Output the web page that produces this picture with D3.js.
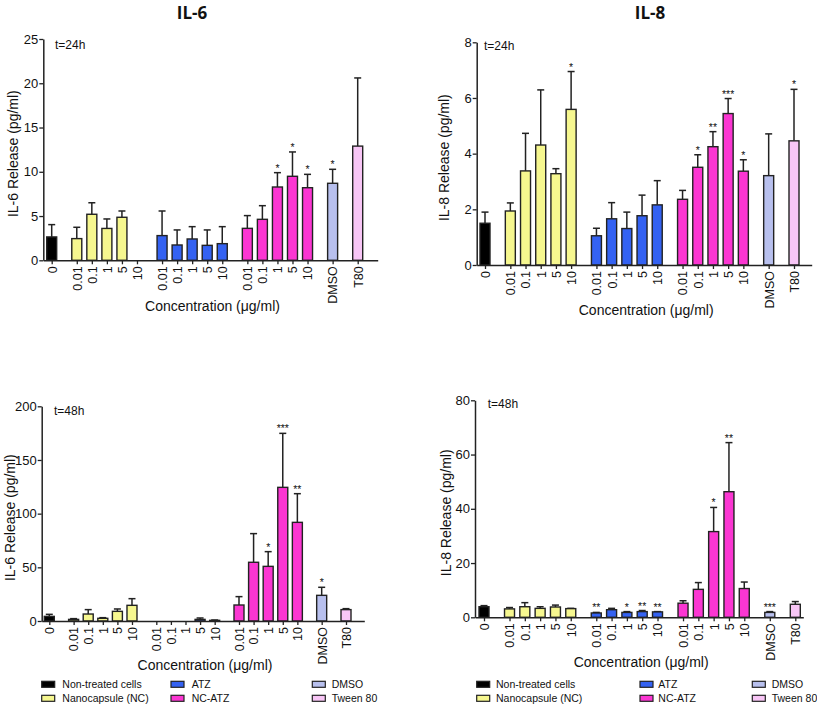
<!DOCTYPE html>
<html>
<head>
<meta charset="utf-8">
<script src="https://cdn.jsdelivr.net/npm/d3@7"></script>
<style>
  body { margin: 0; background: #fff; }
  svg { display: block; font-family: "Liberation Sans", Arial, sans-serif; }
</style>
</head>
<body>
<svg id="chart" width="817" height="706"></svg>
<script>
// ---------------- DATA ----------------
const groupNames = ["Non-treated cells", "Nanocapsule (NC)", "ATZ", "NC-ATZ", "DMSO", "Tween 80"];
const groupColors = ["#000000", "#f6f78f", "#3462f2", "#fb36d2", "#b8c0ee", "#f8c6f6"];
const categoryLabels = ["0", "0.01", "0.1", "1", "5", "10", "0.01", "0.1", "1", "5", "10",
                        "0.01", "0.1", "1", "5", "10", "DMSO", "T80"];
const categoryGroup = [0, 1, 1, 1, 1, 1, 2, 2, 2, 2, 2, 3, 3, 3, 3, 3, 4, 5];

// IL-6, 24h
const il6_24_mean = [2.64, 2.45, 5.2, 3.6, 4.86, null, 2.79, 1.73, 2.41, 1.69, 1.88, 3.61, 4.63, 8.28, 9.49, 8.2, 8.7, 12.9];
const il6_24_err  = [1.39, 1.28, 1.3, 1.07, 0.71, null, 2.78, 1.7, 1.39, 1.74, 1.92, 1.44, 1.54, 1.62, 2.75, 1.51, 1.58, 7.7];
const il6_24_sig  = ["", "", "", "", "", "", "", "", "", "", "", "", "", "*", "*", "*", "*", ""];
const il6_24_ticks = [0, 5, 10, 15, 20, 25];

// IL-8, 24h
const il8_24_mean = [1.50, 1.94, 3.38, 4.31, 3.28, 5.59, 1.05, 1.66, 1.31, 1.77, 2.16, 2.36, 3.51, 4.25, 5.44, 3.37, 3.21, 4.46];
const il8_24_err  = [0.40, 0.29, 1.35, 1.98, 0.18, 1.36, 0.27, 0.58, 0.59, 0.74, 0.87, 0.32, 0.45, 0.54, 0.54, 0.41, 1.50, 1.85];
const il8_24_sig  = ["", "", "", "", "", "*", "", "", "", "", "", "", "*", "**", "***", "*", "", "*"];
const il8_24_ticks = [0, 2, 4, 6, 8];

// IL-6, 48h
const il6_48_mean = [4.3, 1.5, 6.5, 2.5, 9.0, 14.6, null, null, null, 1.5, 0.6, 14.9, 54.7, 50.9, 124.5, 91.9, 23.9, 10.6];
const il6_48_err  = [1.9, 0.7, 4.1, 0.6, 2.2, 6.2, null, null, null, 1.3, 0.3, 7.8, 26.7, 13.7, 50.3, 26.7, 7.5, 0.9];
const il6_48_sig  = ["", "", "", "", "", "", "", "", "", "", "", "", "", "*", "***", "**", "*", ""];
const il6_48_ticks = [0, 50, 100, 150, 200];

// IL-8, 48h
const il8_48_mean = [3.9, 3.1, 3.9, 3.3, 3.8, 3.2, 1.6, 2.8, 1.8, 2.1, 2.0, 5.2, 10.3, 31.6, 46.3, 10.6, 1.8, 4.8];
const il8_48_err  = [0.4, 0.5, 1.5, 0.6, 0.7, 0.1, 0.2, 0.5, 0.3, 0.4, 0.1, 0.9, 2.5, 8.9, 18.1, 2.4, 0.3, 1.0];
const il8_48_sig  = ["", "", "", "", "", "", "**", "", "*", "**", "**", "", "", "*", "**", "", "***", ""];
const il8_48_ticks = [0, 20, 40, 60, 80];

const panelTitles = ["IL-6", "IL-8"];
const timeLabels = ["t=24h", "t=48h"];
const xTitle = "Concentration (\u03bcg/ml)";

// ---------------- LAYOUT ----------------
const svg = d3.select("#chart");
const GAP = 2 / 3;   // extra space between groups, in bar-step units
const positions = categoryLabels.map((d, i) => i + GAP * categoryGroup[i]);
const lastPos = positions[positions.length - 1];

const panels = [
  { mean: il6_24_mean, err: il6_24_err, sig: il6_24_sig, ticks: il6_24_ticks, ylab: "IL-6 Release (pg/ml)", time: timeLabels[0],
    ax: 43.3, x0: 51.7, x1: 357.7, xe: 377.7, y0: 260.3, yt: 39, ylx: 13, xty: 311, tx: 55, ty: 49, legend: false },
  { mean: il8_24_mean, err: il8_24_err, sig: il8_24_sig, ticks: il8_24_ticks, ylab: "IL-8 Release (pg/ml)", time: timeLabels[0],
    ax: 476.7, x0: 485, x1: 794, xe: 811.7, y0: 265, yt: 42.3, ylx: 444, xty: 315, tx: 484, ty: 50, legend: false },
  { mean: il6_48_mean, err: il6_48_err, sig: il6_48_sig, ticks: il6_48_ticks, ylab: "IL-6 Release (pg/ml)", time: timeLabels[1],
    ax: 41.7, x0: 49.3, x1: 346, xe: 364.3, y0: 621, yt: 406.3, ylx: 10, xty: 670, tx: 54, ty: 415, legend: true,
    lsw: [41.7, 171, 312.3], ltx: [62.3, 191.7, 331.7] },
  { mean: il8_48_mean, err: il8_48_err, sig: il8_48_sig, ticks: il8_48_ticks, ylab: "IL-8 Release (pg/ml)", time: timeLabels[1],
    ax: 475, x0: 484, x1: 795.3, xe: 803.3, y0: 617.3, yt: 400.3, ylx: 446, xty: 667, tx: 487.7, ty: 408, legend: true,
    lsw: [476.7, 640, 752.3], ltx: [496, 658.3, 771.7] }
];

const ink = "#222";
const barW = 10;

panels.forEach(p => {
  const step = (p.x1 - p.x0) / lastPos;
  const x = d3.scaleLinear()
    .domain([-(p.x0 - p.ax) / step, lastPos + (p.xe - p.x1) / step])
    .range([p.ax, p.xe]);
  const ymax = p.ticks[p.ticks.length - 1];
  const y = d3.scaleLinear().domain([0, ymax]).range([p.y0, p.yt]);
  const g = svg.append("g");

  const data = categoryLabels.map((lab, i) => ({
    i, lab, pos: positions[i], grp: categoryGroup[i], v: p.mean[i], e: p.err[i], s: p.sig[i]
  }));
  const present = data.filter(d => d.v !== null);

  // error bars (upper only)
  const eb = g.append("g").attr("stroke", ink).attr("stroke-width", 1.5);
  present.forEach(d => {
    const cx = x(d.pos);
    eb.append("line").attr("x1", cx).attr("x2", cx).attr("y1", y(d.v)).attr("y2", y(d.v + d.e));
    eb.append("line").attr("x1", cx - 3.5).attr("x2", cx + 3.5).attr("y1", y(d.v + d.e)).attr("y2", y(d.v + d.e));
  });

  // bars
  g.append("g").selectAll("rect").data(present).join("rect")
    .attr("x", d => x(d.pos) - barW / 2)
    .attr("width", barW)
    .attr("y", d => y(d.v))
    .attr("height", d => Math.max(0, p.y0 - y(d.v)))
    .attr("fill", d => groupColors[d.grp])
    .attr("stroke", ink)
    .attr("stroke-width", 1.4);

  // significance stars
  g.append("g").selectAll("text").data(present.filter(d => d.s)).join("text")
    .attr("x", d => x(d.pos))
    .attr("y", d => y(d.v + d.e) - 1)
    .attr("text-anchor", "middle")
    .attr("font-size", 10.5)
    .attr("fill", "#111")
    .text(d => d.s);

  // y axis
  const ya = g.append("g").attr("transform", `translate(${p.ax},0)`)
    .call(d3.axisLeft(y).tickValues(p.ticks).tickSize(4).tickSizeOuter(0).tickFormat(d3.format("d")));
  ya.select(".domain").attr("stroke", ink).attr("stroke-width", 1.5);
  ya.selectAll(".tick line").attr("stroke", ink).attr("stroke-width", 1.3);
  ya.selectAll(".tick text").attr("font-size", 13).attr("fill", "#111")
    .attr("font-family", "Liberation Sans, Arial, sans-serif").attr("x", -5);

  // x axis
  const xa = g.append("g").attr("transform", `translate(0,${p.y0})`)
    .call(d3.axisBottom(x).tickValues(positions).tickSize(4).tickSizeOuter(0)
      .tickFormat((d, i) => categoryLabels[i]));
  xa.select(".domain").attr("stroke", ink).attr("stroke-width", 1.5);
  xa.selectAll(".tick line").attr("stroke", ink).attr("stroke-width", 1.3);
  xa.selectAll(".tick text")
    .attr("font-size", 12.5).attr("fill", "#111")
    .attr("font-family", "Liberation Sans, Arial, sans-serif")
    .attr("transform", "rotate(-90)")
    .attr("x", -6).attr("y", 0).attr("dy", "0.35em")
    .attr("text-anchor", "end");

  // titles
  g.append("text")
    .attr("transform", `translate(${p.ylx},${(p.y0 + p.yt) / 2 + 4}) rotate(-90)`)
    .attr("text-anchor", "middle").attr("dy", "0.35em")
    .attr("font-size", 14).attr("fill", "#111").text(p.ylab);
  g.append("text")
    .attr("x", (p.ax + p.xe) / 2 + 2).attr("y", p.xty)
    .attr("text-anchor", "middle")
    .attr("font-size", 14).attr("fill", "#111").text(xTitle);
  g.append("text")
    .attr("x", p.tx).attr("y", p.ty)
    .attr("font-size", 12).attr("fill", "#111").text(p.time);

  // legend
  if (p.legend) {
    const rowsY = [684.3, 698.3];
    groupNames.forEach((name, k) => {
      const col = Math.floor(k / 2), row = k % 2;
      g.append("rect")
        .attr("x", p.lsw[col]).attr("y", rowsY[row] - 3)
        .attr("width", 13).attr("height", 6)
        .attr("fill", groupColors[k]).attr("stroke", ink).attr("stroke-width", 1.2);
      g.append("text")
        .attr("x", p.ltx[col]).attr("y", rowsY[row]).attr("dy", "0.35em")
        .attr("font-size", 10.5).attr("fill", "#111").text(name);
    });
  }
});

// panel titles
const titleX = [192, 650];
panelTitles.forEach((t, k) => {
  svg.append("text")
    .attr("x", titleX[k]).attr("y", 19)
    .attr("text-anchor", "middle")
    .attr("font-family", "'Open Sans', 'Liberation Sans', sans-serif")
    .attr("font-weight", "bold").attr("font-size", 17)
    .attr("fill", "#111").text(t);
});
</script>
</body>
</html>
